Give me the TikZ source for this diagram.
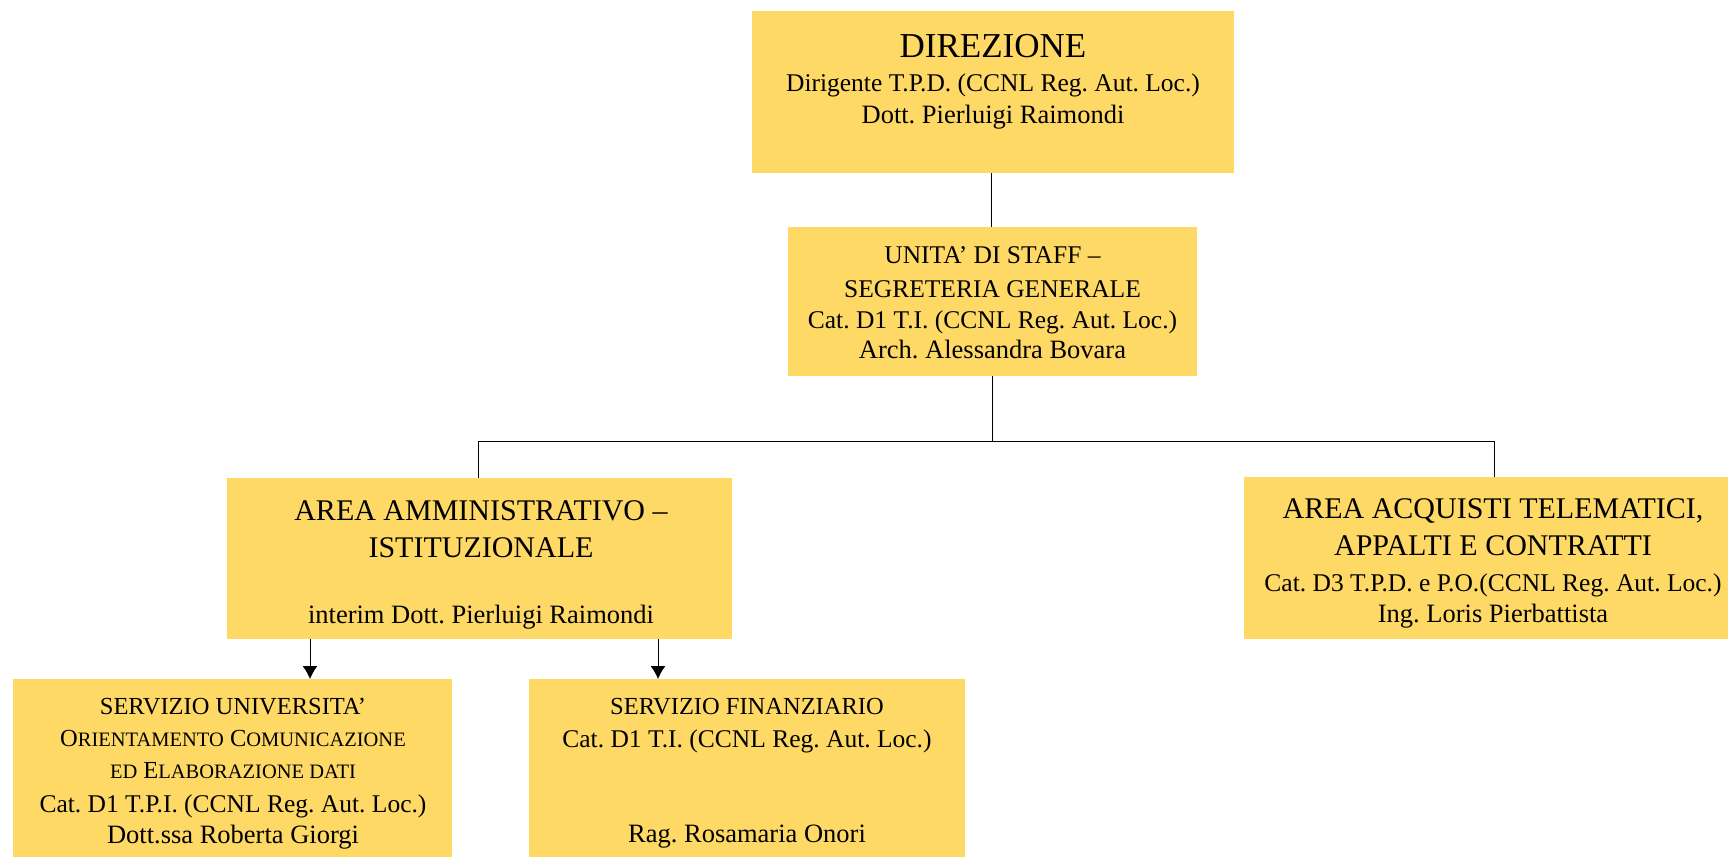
\documentclass[tikz,border=0pt]{standalone}
\usepackage{fontspec}
\setmainfont{Liberation Serif}
\usetikzlibrary{arrows.meta}
\definecolor{boxfill}{HTML}{FFD966}
\newcommand{\fsc}[1]{{\fontsize{20.5}{21}\selectfont #1}}
\tikzset{
  box/.style={fill=boxfill, draw=none, inner sep=0pt, outer sep=0pt},
  txt/.style={anchor=base, inner sep=0pt, font=\frenchspacing\fontsize{25.5}{28}\selectfont},
  nm/.style={anchor=base, inner sep=0pt, font=\frenchspacing\fontsize{26.5}{30}\selectfont},
  capline/.style={anchor=base, inner sep=0pt, font=\frenchspacing\fontsize{24.5}{28}\selectfont},
  mid/.style={anchor=base, inner sep=0pt, font=\frenchspacing\fontsize{25.5}{30}\selectfont},
  big/.style={anchor=base, inner sep=0pt, font=\frenchspacing\fontsize{30}{36}\selectfont},
  ttl/.style={anchor=base, inner sep=0pt, font=\fontsize{35}{40}\selectfont},
  conn/.style={draw=black, line width=1pt},
  arr/.style={conn, -{Latex[length=13pt,width=15pt]}}
}
\begin{document}
\begin{tikzpicture}[x=1pt,y=-1pt]
\useasboundingbox (0,0) rectangle (1728,857);
% boxes
\node[box, minimum width=482pt, minimum height=162pt] (dir) at (993,92) {};
\node[box, minimum width=409pt, minimum height=149pt] (staff) at (992.5,301.5) {};
\node[box, minimum width=505pt, minimum height=161pt] (adm) at (479.5,558.5) {};
\node[box, minimum width=484pt, minimum height=162pt] (acq) at (1486,558) {};
\node[box, minimum width=439pt, minimum height=178pt] (univ) at (232.5,768) {};
\node[box, minimum width=436pt, minimum height=178pt] (fin) at (747,768) {};
% texts
\node[ttl] (dir1) at (993,57) {DIREZIONE};
\node[txt] (dir2) at (993,91) {Dirigente T.P.D. (CCNL Reg. Aut. Loc.)};
\node[nm] (dir3) at (993,123) {Dott. Pierluigi Raimondi};
\node[mid] (st1) at (992.5,263) {UNITA’ DI STAFF –};
\node[mid] (st2) at (992.5,297) {SEGRETERIA GENERALE};
\node[txt] (st3) at (992.5,328) {Cat. D1 T.I. (CCNL Reg. Aut. Loc.)};
\node[nm] (st4) at (992.5,358) {Arch. Alessandra Bovara};
\node[big] (ad1) at (481,520) {AREA AMMINISTRATIVO –};
\node[big] (ad2) at (481,557) {ISTITUZIONALE};
\node[nm] (ad3) at (481,623) {interim Dott. Pierluigi Raimondi};
\node[big] (aq1) at (1493,518) {AREA ACQUISTI TELEMATICI,};
\node[big] (aq2) at (1493,555) {APPALTI E CONTRATTI};
\node[txt] (aq3) at (1493,591) {Cat. D3 T.P.D. e P.O.(CCNL Reg. Aut. Loc.)};
\node[nm] (aq4) at (1493,622) {Ing. Loris Pierbattista};
\node[capline] (un1) at (233,714) {SERVIZIO UNIVERSITA’};
\node[capline] (un2) at (233,746) {O\fsc{RIENTAMENTO} C\fsc{OMUNICAZIONE}};
\node[capline] (un3) at (233,778) {\fsc{ED} E\fsc{LABORAZIONE DATI}};
\node[txt] (un4) at (233,812) {Cat. D1 T.P.I. (CCNL Reg. Aut. Loc.)};
\node[nm] (un5) at (233,843) {Dott.ssa Roberta Giorgi};
\node[capline] (fi1) at (747,714) {SERVIZIO FINANZIARIO};
\node[txt] (fi2) at (747,747) {Cat. D1 T.I. (CCNL Reg. Aut. Loc.)};
\node[nm] (fi3) at (747,842) {Rag. Rosamaria Onori};
% connectors
\coordinate (dsx) at (991,173);
\draw[conn] (dsx) -- (dsx |- staff.north);
\coordinate (bus) at (992,441);
\coordinate (busL) at (478,441);
\coordinate (busR) at (1494,441);
\draw[conn] (staff.south -| bus) -- (bus);
\draw[conn] (busL) -- (busR);
\draw[conn] (busL) -- (busL |- adm.north);
\draw[conn] (busR) -- (busR |- acq.north);
\coordinate (a1) at (310,639);
\coordinate (a2) at (658,639);
\draw[arr] (a1) -- (a1 |- univ.north);
\draw[arr] (a2) -- (a2 |- fin.north);
\end{tikzpicture}
\end{document}
